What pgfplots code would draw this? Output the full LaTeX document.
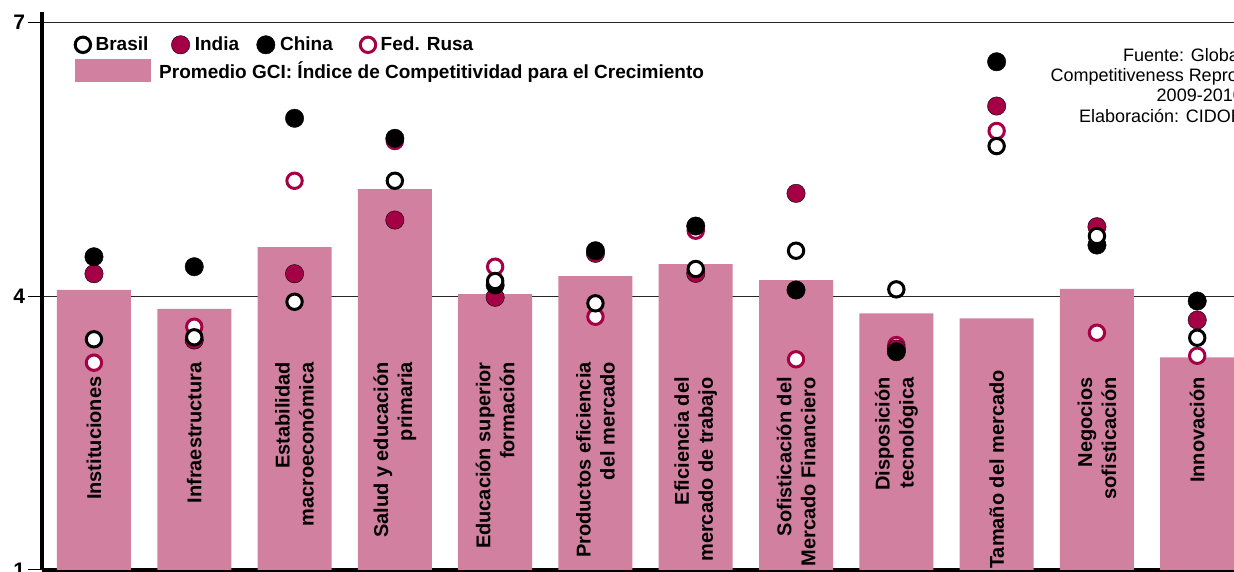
\documentclass[border=0pt]{standalone}
\usepackage{fontspec}
\setmainfont{Liberation Sans}
\usepackage{pgfplots}
\pgfplotsset{compat=1.18}
\definecolor{barpink}{RGB}{210,128,160}
\definecolor{crim}{RGB}{165,0,70}
\newcommand\labfont{\bfseries\fontsize{20}{24}\selectfont}
\newcommand\legfont{\bfseries\fontsize{19}{23}\selectfont}
\pgfplotsset{
  brasil/.style={only marks, mark=*, mark size=7.7pt, mark options={draw=black, fill=white, line width=3pt}},
  rusa/.style={only marks, mark=*, mark size=7.7pt, mark options={draw=crim, fill=white, line width=3pt}},
  india/.style={only marks, mark=*, mark size=9.2pt, mark options={draw=none, fill=crim}},
  china/.style={only marks, mark=*, mark size=9.2pt, mark options={draw=none, fill=black}},
}
\begin{document}
\begin{tikzpicture}
\useasboundingbox (-42.5pt,-2pt) rectangle (1191.5pt,570pt);
\clip (-42.5pt,-2pt) rectangle (1191.5pt,570pt);
\begin{axis}[
  scale only axis, width=1214.9pt, height=558pt,
  xmin=-0.513, xmax=11.6, ymin=1, ymax=7.11,
  axis x line*=bottom, axis y line*=left,
  axis line style={line width=4pt, -},
  ytick={1,4,7}, xtick=\empty,
  ymajorgrids, major grid style={black!85, line width=1pt},
  tick align=outside, major tick length=14pt,
  tick style={black, line width=1pt},
  yticklabel style={font=\bfseries\fontsize{21}{22}\selectfont},
  /pgf/number format/assume math mode=true,
  legend columns=4,
  legend cell align=left,
  legend image code/.code={\draw[#1] plot coordinates {(0pt,0pt)};},
  legend style={at={(axis description cs:0.02675,0.9588)}, anchor=north west,
    draw=none, fill=none, inner sep=0pt, font=\legfont,
    /tikz/every odd column/.append style={column sep=3pt},
    /tikz/column 2/.append style={column sep=21pt},
    /tikz/column 4/.append style={column sep=15.5pt},
    /tikz/column 6/.append style={column sep=25.5pt}},
]
\addplot[ybar, bar width=74pt, fill=barpink, draw=none, forget plot] coordinates {
 (0,4.066) (1,3.858) (2,4.536) (3,5.171) (4,4.02) (5,4.219)
 (6,4.350) (7,4.175) (8,3.810) (9,3.756) (10,4.077) (11,3.329)};
\addplot[rusa, forget plot] coordinates {
 (0,3.270) (1,3.664) (2,5.262) (3,5.697) (4,4.321) (5,3.773)
 (6,4.715) (7,3.307) (8,3.463) (9,5.807) (10,3.598) (11,3.346)};
\addplot[india, forget plot] coordinates {
 (0,4.244) (1,3.518) (2,4.244) (3,4.832) (4,3.986) (5,4.467)
 (6,4.248) (7,5.124) (8,3.42) (9,6.080) (10,4.759) (11,3.737)};
\addplot[china, forget plot] coordinates {
 (0,4.430) (1,4.321) (2,5.946) (3,5.727) (4,4.120) (5,4.496)
 (6,4.766) (7,4.066) (8,3.390) (9,6.565) (10,4.558) (11,3.945)};
\addplot[brasil, forget plot] coordinates {
 (0,3.526) (1,3.548) (2,3.937) (3,5.262) (4,4.164) (5,3.920)
 (6,4.296) (7,4.496) (8,4.073) (9,5.642) (10,4.657) (11,3.543)};
\addlegendimage{brasil}
\addlegendimage{india}
\addlegendimage{china}
\addlegendimage{rusa}
\legend{Brasil, India, China, Fed. Rusa}
\tikzset{catlab/.style={rotate=90, anchor=east, align=right, inner sep=0pt, font=\labfont}}
\node[catlab] at (axis cs:0,3.12) {Instituciones};
\node[catlab] at (axis cs:1,3.277) {Infraestructura};
\node[catlab] at (axis cs:2,3.277) {Estabilidad\\macroeconómica};
\node[catlab] at (axis cs:3,3.277) {Salud y educación\\primaria};
\node[catlab] at (axis cs:4,3.277) {Educación superior\\formación};
\node[catlab] at (axis cs:5,3.277) {Productos eficiencia\\del mercado};
\node[catlab] at (axis cs:6,3.113) {Eficiencia del\\mercado de trabajo};
\node[catlab] at (axis cs:7,3.113) {Sofisticación del\\Mercado Financiero};
\node[catlab] at (axis cs:8,3.113) {Disposición\\tecnológica};
\node[catlab] at (axis cs:9,3.19) {Tamaño del mercado};
\node[catlab] at (axis cs:10,3.113) {Negocios\\sofisticación};
\node[catlab] at (axis cs:11,3.113) {Innovación};
\end{axis}
\begin{axis}[
  scale only axis, width=1214.9pt, height=558pt,
  xmin=-0.513, xmax=11.6, ymin=1, ymax=7.11,
  hide axis,
  legend image code/.code={\fill[barpink] (0pt,-11.5pt) rectangle (76pt,11.5pt);},
  legend style={at={(axis description cs:0.02675,0.9158)}, anchor=north west,
    draw=none, fill=none, inner sep=0pt, font=\legfont,
    /tikz/every odd column/.append style={column sep=6pt}},
]
\addlegendimage{fill=barpink, draw=none}
\legend{Promedio GCI: Índice de Competitividad para el Crecimiento}
\end{axis}
\begin{scope}[every node/.style={anchor=base east, inner sep=0pt, font=\fontsize{18}{20}\selectfont}]
\node at (1200.5pt,508.3pt) {Fuente: Global};
\node at (1200.5pt,488pt) {Competitiveness Reprot};
\node at (1200.5pt,468pt) {2009-2010};
\node at (1200.5pt,447pt) {Elaboración: CIDOB};
\end{scope}
\end{tikzpicture}
\end{document}
